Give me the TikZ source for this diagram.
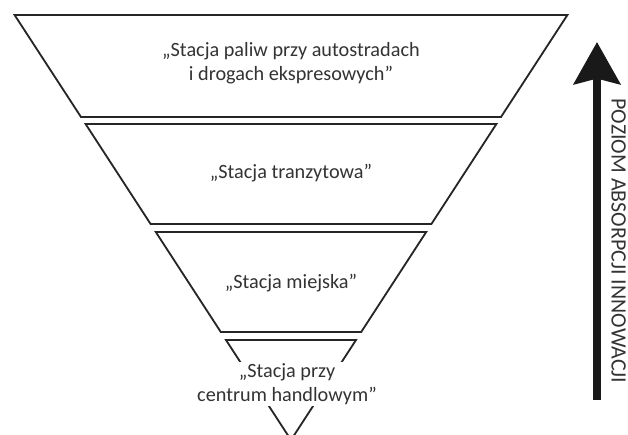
\documentclass[tikz,border=0pt]{standalone}
\usepackage{fontspec}
\setmainfont{Carlito}
\usepackage{tikz}
\usetikzlibrary{arrows.meta}
\usepackage[dvipsnames,svgnames,x11names]{xcolor}

\begin{document}
\begin{tikzpicture}[
    >=Stealth,
    scale=1,
    warstwa/.style={line width=1.3pt, black!85, fill=white},
    opis/.style={text=black!80, align=center,
        font=\fontsize{14.4}{17}\selectfont}
]

\clip (-7.275,0) rectangle (8.425,-10.85);

% Poziom 1

\draw[warstwa]
    (-6.91,-0.375) -- (6.91,-0.375) -- (5.25,-2.925) -- (-5.25,-2.925) -- cycle;

\node[opis] (autostrady) at (0,-1.575)
    {„Stacja paliw przy autostradach\\i drogach ekspresowych”};


% Poziom 2

\draw[warstwa]
    (-5.135,-3.1) -- (5.135,-3.1) -- (3.51,-5.6) -- (-3.51,-5.6) -- cycle;

\node[opis] (tranzyt) at (0,-4.325) {„Stacja tranzytowa”};


% Poziom 3

\draw[warstwa]
    (-3.38,-5.8) -- (3.38,-5.8) -- (1.755,-8.3) -- (-1.755,-8.3) -- cycle;

\node[opis] (miejska) at (0,-7.075) {„Stacja miejska”};


% Poziom 4

\draw[warstwa]
    (-1.625,-8.5) -- (1.625,-8.5) -- (0,-11.0) -- cycle;

\node[
    opis,
    fill=white,
    inner sep=1pt
] (handlowa) at (-0.1,-9.6) {„Stacja przy\\centrum handlowym”};


% Strzałka

\coordinate (dol) at (7.65,-10.0);
\coordinate (gora) at (7.65,-1.05);

\draw[
    -{Stealth[length=30pt, width=33pt, inset=4pt]},
    line width=5.5pt,
    black!90
] (dol) -- (gora);

\node[
    opis,
    font=\fontsize{15.6}{18}\selectfont,
    rotate=-90
] (poziom) at (8.19,-6.025) {POZIOM ABSORPCJI INNOWACJI};

\end{tikzpicture}
\end{document}
